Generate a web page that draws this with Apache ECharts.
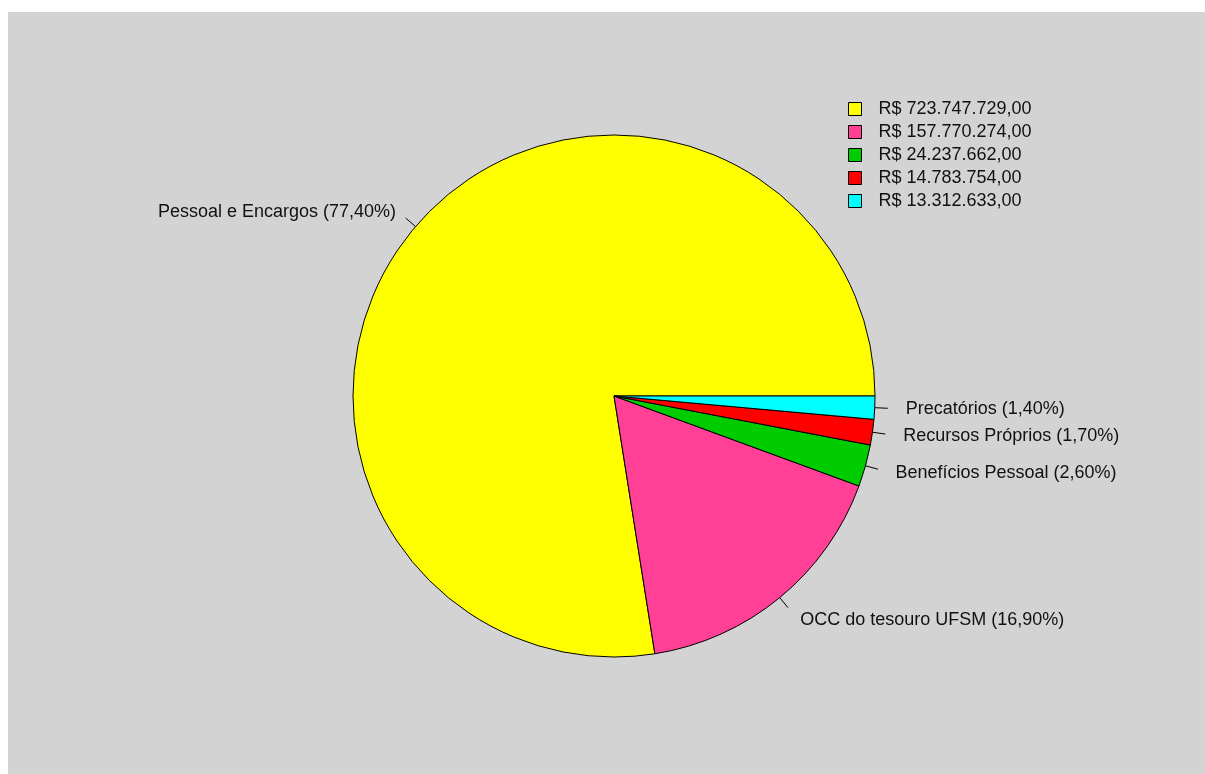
<!DOCTYPE html>
<html>
<head>
<meta charset="utf-8">
<script src="https://cdn.jsdelivr.net/npm/echarts@6/dist/echarts.min.js"></script>
<style>
html,body{margin:0;padding:0;background:#ffffff;width:1205px;height:774px;overflow:hidden;}
#chart{position:absolute;left:8px;top:12px;width:1197px;height:762px;}
</style>
</head>
<body>
<div id="chart"></div>
<script>
const categories = ['Pessoal e Encargos', 'OCC do tesouro UFSM', 'Benefícios Pessoal', 'Recursos Próprios', 'Precatórios'];
const values = [723747729, 157770274, 24237662, 14783754, 13312633];
const percentLabels = ['77,40%', '16,90%', '2,60%', '1,70%', '1,40%'];
const legendLabels = ['R$ 723.747.729,00', 'R$ 157.770.274,00', 'R$ 24.237.662,00', 'R$ 14.783.754,00', 'R$ 13.312.633,00'];
const colors = ['#ffff00', '#ff4096', '#00cc00', '#ff0000', '#00ffff'];

const FONT = "'Liberation Sans', Arial, sans-serif";
const chart = echarts.init(document.getElementById('chart'));

const pieData = categories.map((c, i) => ({ name: c, value: values[i] }));
const labelData = categories.map((c, i) => {
  const d = { name: c, value: values[i] };
  if (i === 0) {
    d.labelLine = { show: true, length: 23, length2: 0, lineStyle: { color: 'rgba(0,0,0,0)', width: 0 } };
  }
  return d;
});
const common = {
  type: 'pie',
  center: [606, 384],
  radius: [0, 261],
  startAngle: 0,
  clockwise: false,
  avoidLabelOverlap: false,
  animation: false
};

chart.setOption({
  backgroundColor: '#d3d3d3',
  color: colors,
  legend: {
    orient: 'vertical',
    left: 835,
    top: 83,
    itemWidth: 13,
    itemHeight: 13,
    itemGap: 5,
    icon: 'rect',
    itemStyle: { borderColor: '#000', borderWidth: 1 },
    textStyle: { fontFamily: FONT, fontSize: 18, color: '#111', padding: [0, 0, 0, 12] },
    data: categories,
    formatter: function (name) { return legendLabels[categories.indexOf(name)]; }
  },
  series: [
    Object.assign({}, common, {
      data: pieData,
      itemStyle: { borderColor: '#000', borderWidth: 1 },
      label: { show: true, position: 'outside', color: 'rgba(0,0,0,0)', formatter: ' ' },
      labelLine: { show: true, length: 13, length2: 0, lineStyle: { color: '#000', width: 1 } },
      emphasis: { disabled: true }
    }),
    Object.assign({}, common, {
      data: labelData,
      silent: true,
      itemStyle: { color: 'rgba(0,0,0,0)', borderWidth: 0 },
      label: {
        show: true,
        position: 'outside',
        fontFamily: FONT,
        fontSize: 18,
        color: '#111',
        distanceToLabelLine: 2,
        formatter: function (p) { return p.name + ' (' + percentLabels[p.dataIndex] + ')'; }
      },
      labelLine: { show: true, length: 29, length2: 0, lineStyle: { color: 'rgba(0,0,0,0)', width: 0 } },
      emphasis: { disabled: true }
    })
  ]
});
</script>
</body>
</html>
